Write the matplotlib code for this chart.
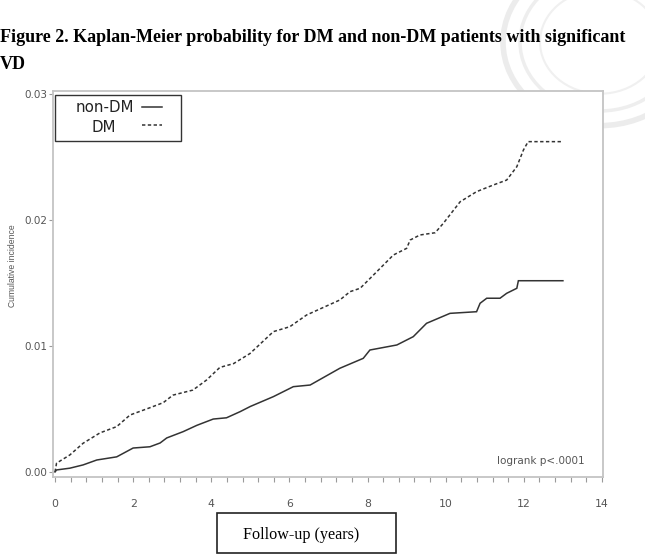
import matplotlib
matplotlib.use("Agg")
import matplotlib.pyplot as plt
from matplotlib import font_manager
from matplotlib.patches import Rectangle, Circle
from matplotlib.lines import Line2D

# ---- data ----
dm_t = [0, 0.04, 0.38, 0.72, 1.15, 1.58, 1.92, 2.43, 2.77, 3.02, 3.53, 3.88, 4.22, 4.57,
        4.99, 5.59, 6.01, 6.44, 7.29, 7.55, 7.81, 8.15, 8.66, 9.0, 9.09, 9.34, 9.73,
        9.94, 10.37, 10.79, 11.22, 11.56, 11.82, 11.99, 12.11, 13.0]
dm_v = [0, 0.0007, 0.00135, 0.00228, 0.0031, 0.0036, 0.00452, 0.0051, 0.0055, 0.0061,
        0.0065, 0.0073, 0.0083, 0.0086, 0.0094, 0.01114, 0.01153, 0.01246, 0.01365,
        0.01431, 0.01458, 0.01563, 0.01722, 0.01775, 0.01841, 0.01881, 0.01899,
        0.01974, 0.02145, 0.02225, 0.02278, 0.02317, 0.02423, 0.02556, 0.02622, 0.02622]

nondm_t = [0, 0.04, 0.38, 0.72, 1.07, 1.58, 2.0, 2.43, 2.69, 2.86, 3.28, 3.63, 4.05, 4.39,
           4.74, 5.0, 5.59, 6.10, 6.53, 7.29, 7.89, 8.06, 8.75, 9.17, 9.51, 10.11, 10.79,
           10.88, 11.05, 11.39, 11.56, 11.82, 11.86, 13.0]
nondm_v = [0, 0.00016, 0.0003, 0.00056, 0.00095, 0.0012, 0.0019, 0.002, 0.0023, 0.0027,
           0.0032, 0.0037, 0.0042, 0.0043, 0.00479, 0.0052, 0.00598, 0.00677, 0.0069,
           0.00823, 0.00902, 0.00968, 0.01008, 0.01074, 0.0118, 0.01259, 0.01272,
           0.01339, 0.01379, 0.01379, 0.01418, 0.01458, 0.01518, 0.01518]

x_ticks = [0, 2, 4, 6, 8, 10, 12, 14]
y_ticks = [0.00, 0.01, 0.02, 0.03]
y_tick_labels = ["0.00", "0.01", "0.02", "0.03"]
series_labels = ["non-DM", "DM"]
title_line1 = "Figure 2. Kaplan-Meier probability for DM and non-DM patients with significant"
title_line2 = "VD"
x_label = "Follow-up (years)"
y_label = "Cumulative incidence"
annot = "logrank p<.0001"

W, H = 645, 556
fig = plt.figure(figsize=(W / 100, H / 100), dpi=100)


def fx(px):
    return px / W


def fy(py):
    return 1 - py / H


def has_font(name):
    try:
        font_manager.findfont(font_manager.FontProperties(family=name), fallback_to_default=False)
        return True
    except Exception:
        return False


serif = "Liberation Serif" if has_font("Liberation Serif") else "DejaVu Serif"
sans2 = "Liberation Sans" if has_font("Liberation Sans") else "DejaVu Sans"

# faint watermark seal at top right (behind axes)
for r, lw, col in [(97, 4, "#ececec"), (80, 2.5, "#eeeeee"), (60, 1.5, "#f0f0f0")]:
    c = Circle((fx(600), fy(42)), r / W, transform=fig.transFigure, fill=False,
               edgecolor=col, lw=lw, zorder=0)
    fig.patches.append(c)

ax = fig.add_axes([fx(53), fy(477), fx(603) - fx(53), fy(91) - fy(477)])
ax.set_zorder(1)
ax.set_facecolor("white")

ax.plot(nondm_t, nondm_v, color="#333333", lw=1.1, solid_joinstyle="miter")
ax.plot(dm_t, dm_v, color="#333333", lw=1.1, linestyle=(0, (2.2, 1.6)))

ax.set_xlim(-0.051, 14.026)
ax.set_ylim(-0.0004, 0.03024)
ax.set_xticks(x_ticks)
ax.set_xticks([i * 0.4 for i in range(36)], minor=True)
ax.set_yticks(y_ticks)
ax.set_yticklabels(y_tick_labels)

for s in ax.spines.values():
    s.set_color("#c4c4c4")
    s.set_linewidth(1.3)

ax.tick_params(axis="x", which="both", direction="out", length=3.5, width=0.8,
               color="#9a9a9a", labelcolor="#555555", labelsize=7.8, pad=12)
ax.tick_params(axis="y", which="both", direction="out", length=3, width=0.8,
               color="#9a9a9a", labelcolor="#555555", labelsize=7.5, pad=1)

fig.text(fx(585), fy(464), annot, ha="right", va="baseline", fontsize=7.5, color="#555555")

# y label
fig.text(fx(12.5), fy(266), y_label, rotation=90, ha="center", va="center",
         fontsize=6.2, color="#555555", family=sans2)

# custom legend box
fig.patches.append(Rectangle((fx(55), fy(141)), fx(181) - fx(55), fy(95) - fy(141),
                             transform=fig.transFigure, fill=True, facecolor="white",
                             edgecolor="#333333", lw=1.0, zorder=3))
fig.text(fx(105), fy(108), series_labels[0], ha="center", va="center", fontsize=10.8,
         color="#222222", zorder=4)
fig.text(fx(104), fy(127), series_labels[1], ha="center", va="center", fontsize=10.8,
         color="#222222", zorder=4)
fig.lines.append(Line2D([fx(142), fx(162)], [fy(107), fy(107)], transform=fig.transFigure,
                        color="#333333", lw=1.1, zorder=4))
fig.lines.append(Line2D([fx(142), fx(162)], [fy(125), fy(125)], transform=fig.transFigure,
                        color="#333333", lw=1.1, linestyle=(0, (2.2, 1.6)), zorder=4))

# title
fig.text(fx(0), fy(38), title_line1, ha="left", va="center", fontsize=13,
         fontweight="bold", family=serif, color="black")
fig.text(fx(0), fy(65), title_line2, ha="left", va="center", fontsize=13,
         fontweight="bold", family=serif, color="black")

# x label box
fig.patches.append(Rectangle((fx(217), fy(553)), fx(396) - fx(217), fy(513) - fy(553),
                             transform=fig.transFigure, fill=False, edgecolor="#222222",
                             lw=1.2, zorder=3))
fig.text(fx(301), fy(535), x_label, ha="center", va="center", fontsize=11.6,
         family=serif, color="black")

fig.savefig("out.png", dpi=100)
